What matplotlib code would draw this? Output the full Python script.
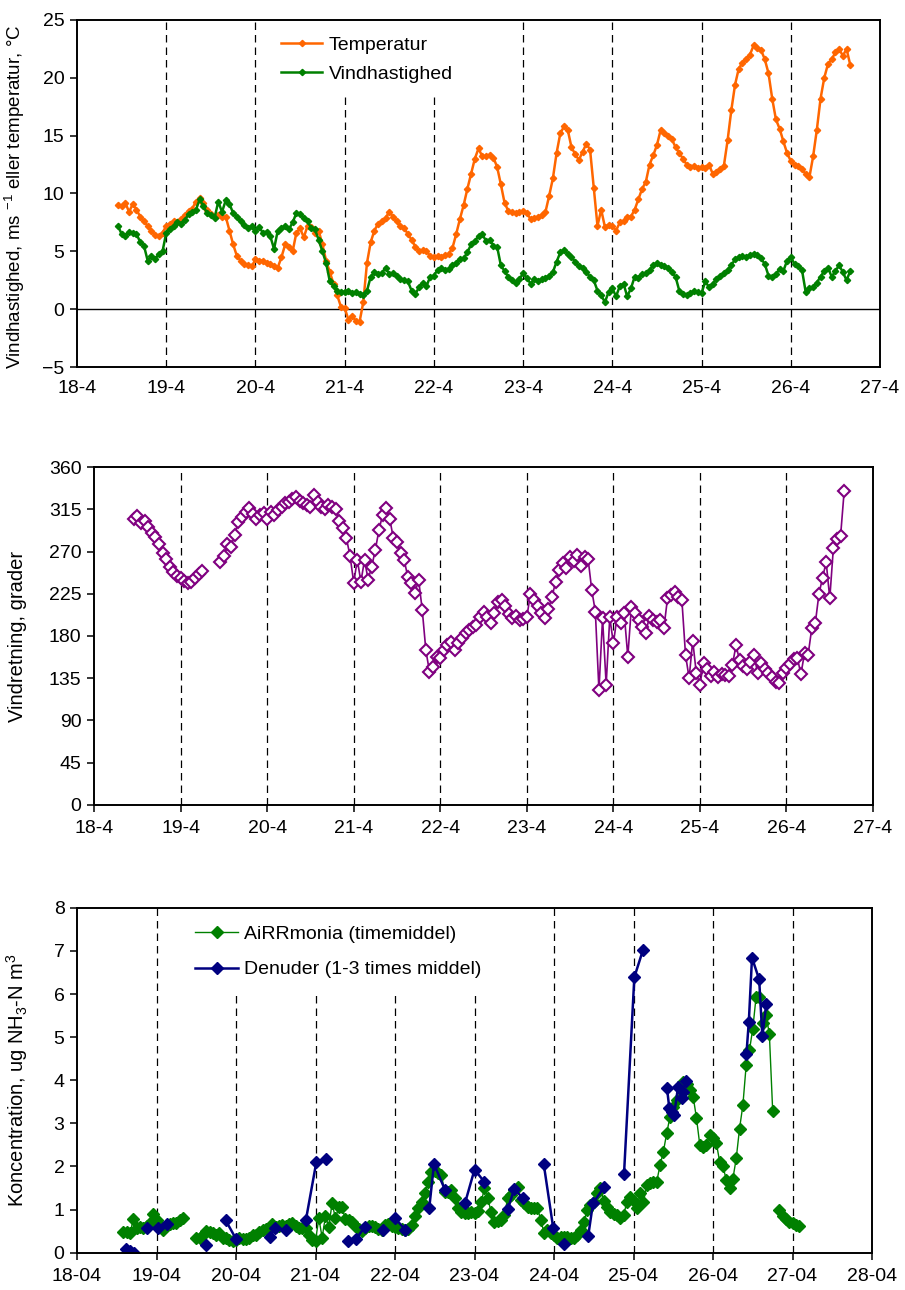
import matplotlib.pyplot as plt
import matplotlib.dates as mdates
from matplotlib.ticker import FuncFormatter
import numpy as np
import pandas as pd

plt.rcParams['font.family'] = ['Liberation Sans', 'DejaVu Sans']
plt.rcParams['mathtext.fontset'] = 'custom'
plt.rcParams['mathtext.rm'] = 'Liberation Sans'
plt.rcParams['mathtext.it'] = 'Liberation Sans:italic'
plt.rcParams['font.size'] = 14

nan = np.nan

# Hourly met data, first value 18-4 11:00
temperatur = [
    9.0, 8.9, 9.2, 8.4, 9.1, 8.6, 8.0, 7.6, 7.2, 6.8, 6.4, 6.3, 6.6,
    7.2, 7.4, 7.6, 7.5, 7.8, 8.1, 8.5, 8.7, 9.3, 9.6, 9.2, 8.6, 8.2, 8.0, 8.1, 8.0, 8.0, 6.8, 5.6, 4.6, 4.2, 3.9, 3.8, 3.7,
    4.3, 4.2, 4.2, 4.0, 3.9, 3.7, 3.6, 4.5, 5.6, 5.4, 5.0, 6.6, 7.0, 6.2, 7.2, 7.1, 6.6, 6.8, 5.6, 4.2, 3.2, 2.2, 1.2, 0.2,
    0.1, -0.9, -0.6, -1.0, -1.1, 0.6, 4.0, 5.8, 6.8, 7.4, 7.6, 7.9, 8.4, 8.0, 7.6, 7.2, 7.0, 6.5, 6.0, 5.4, 5.0, 5.1, 5.0, 4.6,
    4.5, 4.6, 4.5, 4.7, 4.8, 5.3, 6.5, 7.8, 9.0, 10.4, 11.7, 13.0, 13.9, 13.2, 13.2, 13.3, 13.1, 12.3, 10.8, 9.2, 8.5, 8.4, 8.3, 8.4,
    8.5, 8.3, 7.8, 7.9, 8.0, 8.1, 8.4, 9.8, 11.3, 13.5, 15.2, 15.8, 15.5, 14.0, 13.4, 12.9, 13.6, 14.3, 13.8, 10.5, 7.2, 8.6, 7.1, 7.3,
    7.2, 6.8, 7.5, 7.6, 8.0, 8.0, 8.6, 9.5, 10.4, 11.0, 12.5, 13.3, 14.2, 15.5, 15.2, 15.0, 14.7, 14.0, 13.5, 13.0, 12.5, 12.3, 12.4, 12.2,
    12.3, 12.2, 12.5, 11.7, 11.9, 12.1, 12.4, 14.6, 17.2, 19.4, 20.8, 21.3, 21.6, 22.0, 22.8, 22.6, 22.4, 21.6, 20.4, 18.2, 16.4, 15.6, 14.5, 13.5,
    12.8, 12.5, 12.4, 12.1, 11.7, 11.4, 13.2, 15.5, 18.2, 20.0, 21.2, 21.6, 22.2, 22.5, 21.9, 22.5, 21.1,
]
vindhastighed = [
    7.2, 6.5, 6.3, 6.7, 6.6, 6.5, 5.8, 5.5, 4.2, 4.6, 4.3, 4.8, 5.0,
    6.6, 6.9, 7.2, 7.5, 7.4, 7.7, 8.2, 8.4, 8.6, 9.5, 8.9, 8.3, 8.1, 7.9, 9.3, 8.4, 9.4, 9.1, 8.3, 8.0, 7.6, 7.3, 7.0, 7.2,
    6.8, 7.1, 6.6, 6.7, 6.3, 5.2, 6.8, 7.0, 7.2, 6.9, 7.5, 8.3, 8.2, 7.9, 7.6, 7.0, 6.9, 6.0, 5.0, 4.0, 2.4, 2.0, 1.6, 1.5,
    1.5, 1.6, 1.4, 1.5, 1.3, 1.2, 1.6, 2.8, 3.2, 3.0, 3.1, 3.6, 3.0, 3.1, 2.9, 2.6, 2.5, 2.4, 1.6, 1.3, 1.9, 2.3, 2.0, 2.8,
    2.9, 3.4, 3.6, 3.4, 3.5, 3.8, 4.0, 4.3, 4.4, 4.9, 5.6, 5.9, 6.3, 6.5, 5.9, 6.0, 5.5, 5.4, 3.8, 3.3, 2.8, 2.5, 2.3, 2.6,
    3.1, 2.7, 2.2, 2.6, 2.4, 2.6, 2.7, 2.9, 3.2, 4.1, 4.9, 5.1, 4.8, 4.5, 4.1, 3.7, 3.6, 3.2, 2.8, 2.5, 1.6, 1.2, 0.6, 1.5,
    1.8, 1.1, 2.0, 2.2, 1.1, 1.8, 2.8, 2.7, 3.0, 3.1, 3.4, 3.8, 4.0, 3.8, 3.7, 3.6, 3.2, 2.8, 1.6, 1.3, 1.2, 1.4, 1.6, 1.5,
    1.4, 2.4, 1.9, 2.2, 2.6, 2.9, 3.1, 3.4, 3.8, 4.3, 4.5, 4.6, 4.5, 4.7, 4.8, 4.7, 4.4, 3.9, 2.9, 2.8, 3.0, 3.5, 3.3, 4.2,
    4.5, 3.9, 3.7, 3.4, 1.5, 1.8, 1.9, 2.3, 2.8, 3.3, 3.6, 2.8, 3.3, 3.8, 3.2, 2.5, 3.3,
]
vindretning = [
    305, 308, 300, 303, 296, 290, 286, 278, 268, 262, 254, 248, 244,
    242, 239, 236, 238, 242, 246, 249, nan, nan, nan, nan, 259, 265, 278, 275, 288, 302, 307, 312, 316, 310, 305, 309, 311,
    305, 312, 309, 314, 318, 322, 323, 326, 328, 324, 322, 320, 318, 330, 323, 318, 315, 320, 318, 315, 303, 295, 284, 265,
    237, 261, 238, 261, 240, 254, 272, 293, 309, 316, 305, 284, 280, 268, 261, 243, 236, 226, 240, 208, 165, 142, 147, 158,
    156, 165, 170, 174, 165, 172, 178, 183, 186, 190, 192, 200, 206, 200, 194, 205, 216, 218, 212, 203, 199, 201, 197, 198,
    200, 225, 218, 212, 204, 199, 209, 222, 238, 250, 258, 252, 264, 260, 266, 255, 264, 262, 229, 206, 122, 199, 128, 200,
    172, 200, 194, 204, 158, 211, 204, 197, 190, 183, 201, 197, 195, 197, 188, 220, 224, 227, 222, 218, 160, 135, 175, 140,
    128, 151, 145, 137, 142, 136, 139, 138, 137, 149, 170, 154, 148, 145, 152, 160, 140, 151, 145, 140, 136, 131, 130, 140,
    146, 150, 155, 157, 139, 162, 160, 188, 194, 225, 242, 259, 220, 274, 283, 287, 335,
]

# AiRRmonia hourly means, first value 18-04 14:00
airrmonia = [
    0.49, 0.47, 0.45, 0.78, 0.57, 0.60, 0.58, 0.62, 0.70, 0.90,
    0.75, 0.65, 0.53, 0.62, 0.66, 0.68, 0.70, 0.75, 0.80, nan, nan, nan, 0.33, 0.35, 0.42, 0.50, 0.48, 0.45, 0.42, 0.46, 0.35, 0.33, 0.30, 0.28,
    0.30, 0.33, 0.31, 0.32, 0.35, 0.40, 0.40, 0.48, 0.52, 0.56, 0.58, 0.66, 0.60, 0.62, 0.64, 0.62, 0.66, 0.70, 0.62, 0.58, 0.57, 0.58, 0.42, 0.30,
    0.28, 0.80, 0.35, 0.85, 0.60, 1.15, 0.80, 1.05, 1.05, 0.78, 0.75, 0.72, 0.62, 0.55, 0.50, 0.58, 0.62, 0.62, 0.60, 0.55, 0.52, 0.64, 0.66, 0.62,
    0.60, 0.57, 0.55, 0.53, 0.55, 0.64, 0.85, 1.03, 1.18, 1.39, 1.65, 1.88, 1.90, 1.85, 1.80, 1.41, 1.41, 1.45, 1.26, 1.03, 0.95, 0.91, 0.91, 0.95,
    0.93, 0.96, 1.18, 1.49, 1.26, 0.95, 0.72, 0.74, 0.76, 0.87, 1.26, 1.34, 1.45, 1.53, 1.22, 1.15, 1.07, 1.03, 1.03, 1.03, 0.76, 0.45, 0.53, 0.45,
    0.42, 0.33, 0.36, 0.37, 0.37, 0.35, 0.33, 0.41, 0.53, 0.72, 0.99, 1.10, 1.18, 1.38, 1.49, 1.20, 1.07, 0.95, 0.90, 0.87, 0.80, 0.87, 1.18, 1.30,
    1.20, 1.03, 1.38, 1.18, 1.57, 1.62, 1.65, 1.65, 2.03, 2.34, 2.77, 3.15, 3.39, 3.55, 3.85, 3.96, 3.92, 3.77, 3.62, 3.12, 2.50, 2.46, 2.50, 2.73,
    2.65, 2.54, 2.11, 2.00, 1.69, 1.49, 1.72, 2.19, 2.88, 3.42, 4.35, 4.70, 5.20, 5.94, 5.94, 5.32, 5.51, 5.07, 3.29, nan, 0.99, 0.85, 0.78, 0.72,
    0.68, 0.65, 0.61,
]

# Denuder samples: time in days after 18-04 00:00, nan splits the runs
denuder_dag = [
    0.62, 0.67, 0.72, nan, 0.88, 1.02, 1.13, nan, 1.62, nan, 1.87, 2.00, nan,
    2.43, 2.49, nan, 2.63, nan, 2.88, 3.01, 3.13, nan, 3.41, 3.51, 3.62, nan,
    3.85, nan, 4.00, 4.13, nan, 4.43, 4.49, 4.63, nan, 4.88, 5.00, 5.12, nan,
    5.42, 5.50, 5.61, nan, 5.87, 5.99, nan, 6.13, nan, 6.43, 6.49, 6.63, nan,
    6.88, 7.01, 7.12, nan, 7.42, 7.45, 7.48, 7.51, 7.56, 7.61, 7.62, 7.66, nan,
    8.42, 8.45, 8.49, 8.58, 8.62, 8.67,
]
denuder = [
    0.08, 0.05, 0.00, nan, 0.57, 0.57, 0.66, nan, 0.19, nan, 0.75, 0.32, nan,
    0.37, 0.57, nan, 0.53, nan, 0.77, 2.10, 2.18, nan, 0.28, 0.32, 0.60, nan,
    0.53, nan, 0.80, 0.53, nan, 1.03, 2.06, 1.45, nan, 1.15, 1.93, 1.65, nan,
    1.02, 1.48, 1.26, nan, 2.06, 0.57, nan, 0.20, nan, 0.39, 1.15, 1.52, nan,
    1.82, 6.39, 7.03, nan, 3.83, 3.35, 3.27, 3.19, 3.85, 3.58, 3.73, 3.99, nan,
    4.61, 5.36, 6.84, 6.34, 5.02, 5.77,
]

start = pd.Timestamp('2004-04-18')
t_met = pd.date_range('2004-04-18 11:00', periods=len(temperatur), freq='h')
t_airr = pd.date_range('2004-04-18 14:00', periods=len(airrmonia), freq='h')
t_den = start + pd.to_timedelta(np.nan_to_num(denuder_dag), unit='D')
den_vals = np.array(denuder, dtype=float)

dage_kort = [start + pd.Timedelta(days=i) for i in range(10)]
dage_lang = [start + pd.Timedelta(days=i) for i in range(11)]


def dag_maaned(x, pos):
    d = mdates.num2date(x)
    return f"{d.day}-{d.month}"


def style(ax):
    for s in ax.spines.values():
        s.set_linewidth(1.4)
        s.set_color('black')
        s.set_zorder(6)
    ax.tick_params(direction='out', length=5, width=1.1, pad=4, labelsize=14)


def daglinjer(ax, dage):
    for d in dage:
        ax.axvline(d, color='black', lw=0.9, ls=(0, (6, 4)), zorder=1)


fig = plt.figure(figsize=(9.05, 12.9), dpi=100)

# --- temperature and wind speed ---
ax1 = fig.add_axes([0.0851, 0.7155, 0.8873, 0.269])
daglinjer(ax1, dage_kort[1:9])
ax1.axhline(0, color='black', lw=1.0, zorder=1)
ax1.plot(t_met, temperatur, color='#ff6600', lw=1.8, marker='D', ms=3.2,
         label='Temperatur', zorder=3)
ax1.plot(t_met, vindhastighed, color='#008000', lw=1.8, marker='D', ms=3.2,
         label='Vindhastighed', zorder=3)
ax1.set_xlim(dage_kort[0], dage_kort[9])
ax1.set_ylim(-5, 25)
ax1.set_yticks(range(-5, 26, 5))
ax1.set_xticks(dage_kort)
ax1.xaxis.set_major_formatter(FuncFormatter(dag_maaned))
style(ax1)
ax1.tick_params(axis='x', length=0, pad=9)
ax1.set_ylabel('Vindhastighed, ms $^{-1}$ eller temperatur, °C', fontsize=13.5)
ax1.yaxis.set_label_coords(-0.062, 0.49)
ax1.legend(loc='upper left', bbox_to_anchor=(0.236, 0.996), frameon=True,
           fancybox=False, edgecolor='none', facecolor='white', framealpha=1,
           handlelength=2.1, handletextpad=0.35, labelspacing=0.6,
           borderpad=0.75, borderaxespad=0, numpoints=1, fontsize=14)

# --- wind direction ---
ax2 = fig.add_axes([0.1039, 0.3762, 0.8608, 0.2616])
daglinjer(ax2, dage_kort[1:9])
ax2.plot(t_met, vindretning, color='#800080', lw=1.2, marker='D', ms=6,
         mfc='white', mec='#800080', mew=1.5, zorder=3)
ax2.set_xlim(dage_kort[0], dage_kort[9])
ax2.set_ylim(0, 360)
ax2.set_yticks(range(0, 361, 45))
ax2.set_xticks(dage_kort)
ax2.xaxis.set_major_formatter(FuncFormatter(dag_maaned))
style(ax2)
ax2.tick_params(axis='x', pad=6)
ax2.set_ylabel('Vindretning, grader', fontsize=14.5)
ax2.yaxis.set_label_coords(-0.086, 0.5)

# --- ammonia concentration ---
ax3 = fig.add_axes([0.0851, 0.0289, 0.8785, 0.2674])
daglinjer(ax3, dage_lang[1:10])
ax3.plot(t_airr, airrmonia, color='#008000', lw=1.0, marker='D', ms=5.8,
         label='AiRRmonia (timemiddel)', zorder=3)
ax3.plot(t_den, den_vals, color='#000080', lw=1.8, marker='D', ms=5.8,
         label='Denuder (1-3 times middel)', zorder=4)
ax3.set_xlim(dage_lang[0], dage_lang[10])
ax3.set_ylim(0, 8)
ax3.set_yticks(range(0, 9))
ax3.set_xticks(dage_lang)
ax3.xaxis.set_major_formatter(mdates.DateFormatter('%d-%m'))
style(ax3)
ax3.tick_params(axis='x', pad=6)
ax3.set_ylabel('Koncentration, ug NH$_{3}$-N m$^{3}$', fontsize=14.5)
ax3.yaxis.set_label_coords(-0.059, 0.5)
ax3.legend(loc='upper left', bbox_to_anchor=(0.128, 0.996), frameon=True,
           fancybox=False, edgecolor='none', facecolor='white', framealpha=1,
           handlelength=2.2, handletextpad=0.3, labelspacing=0.9,
           borderpad=0.85, borderaxespad=0, numpoints=1, fontsize=14)

fig.savefig('out.png', dpi=100)
